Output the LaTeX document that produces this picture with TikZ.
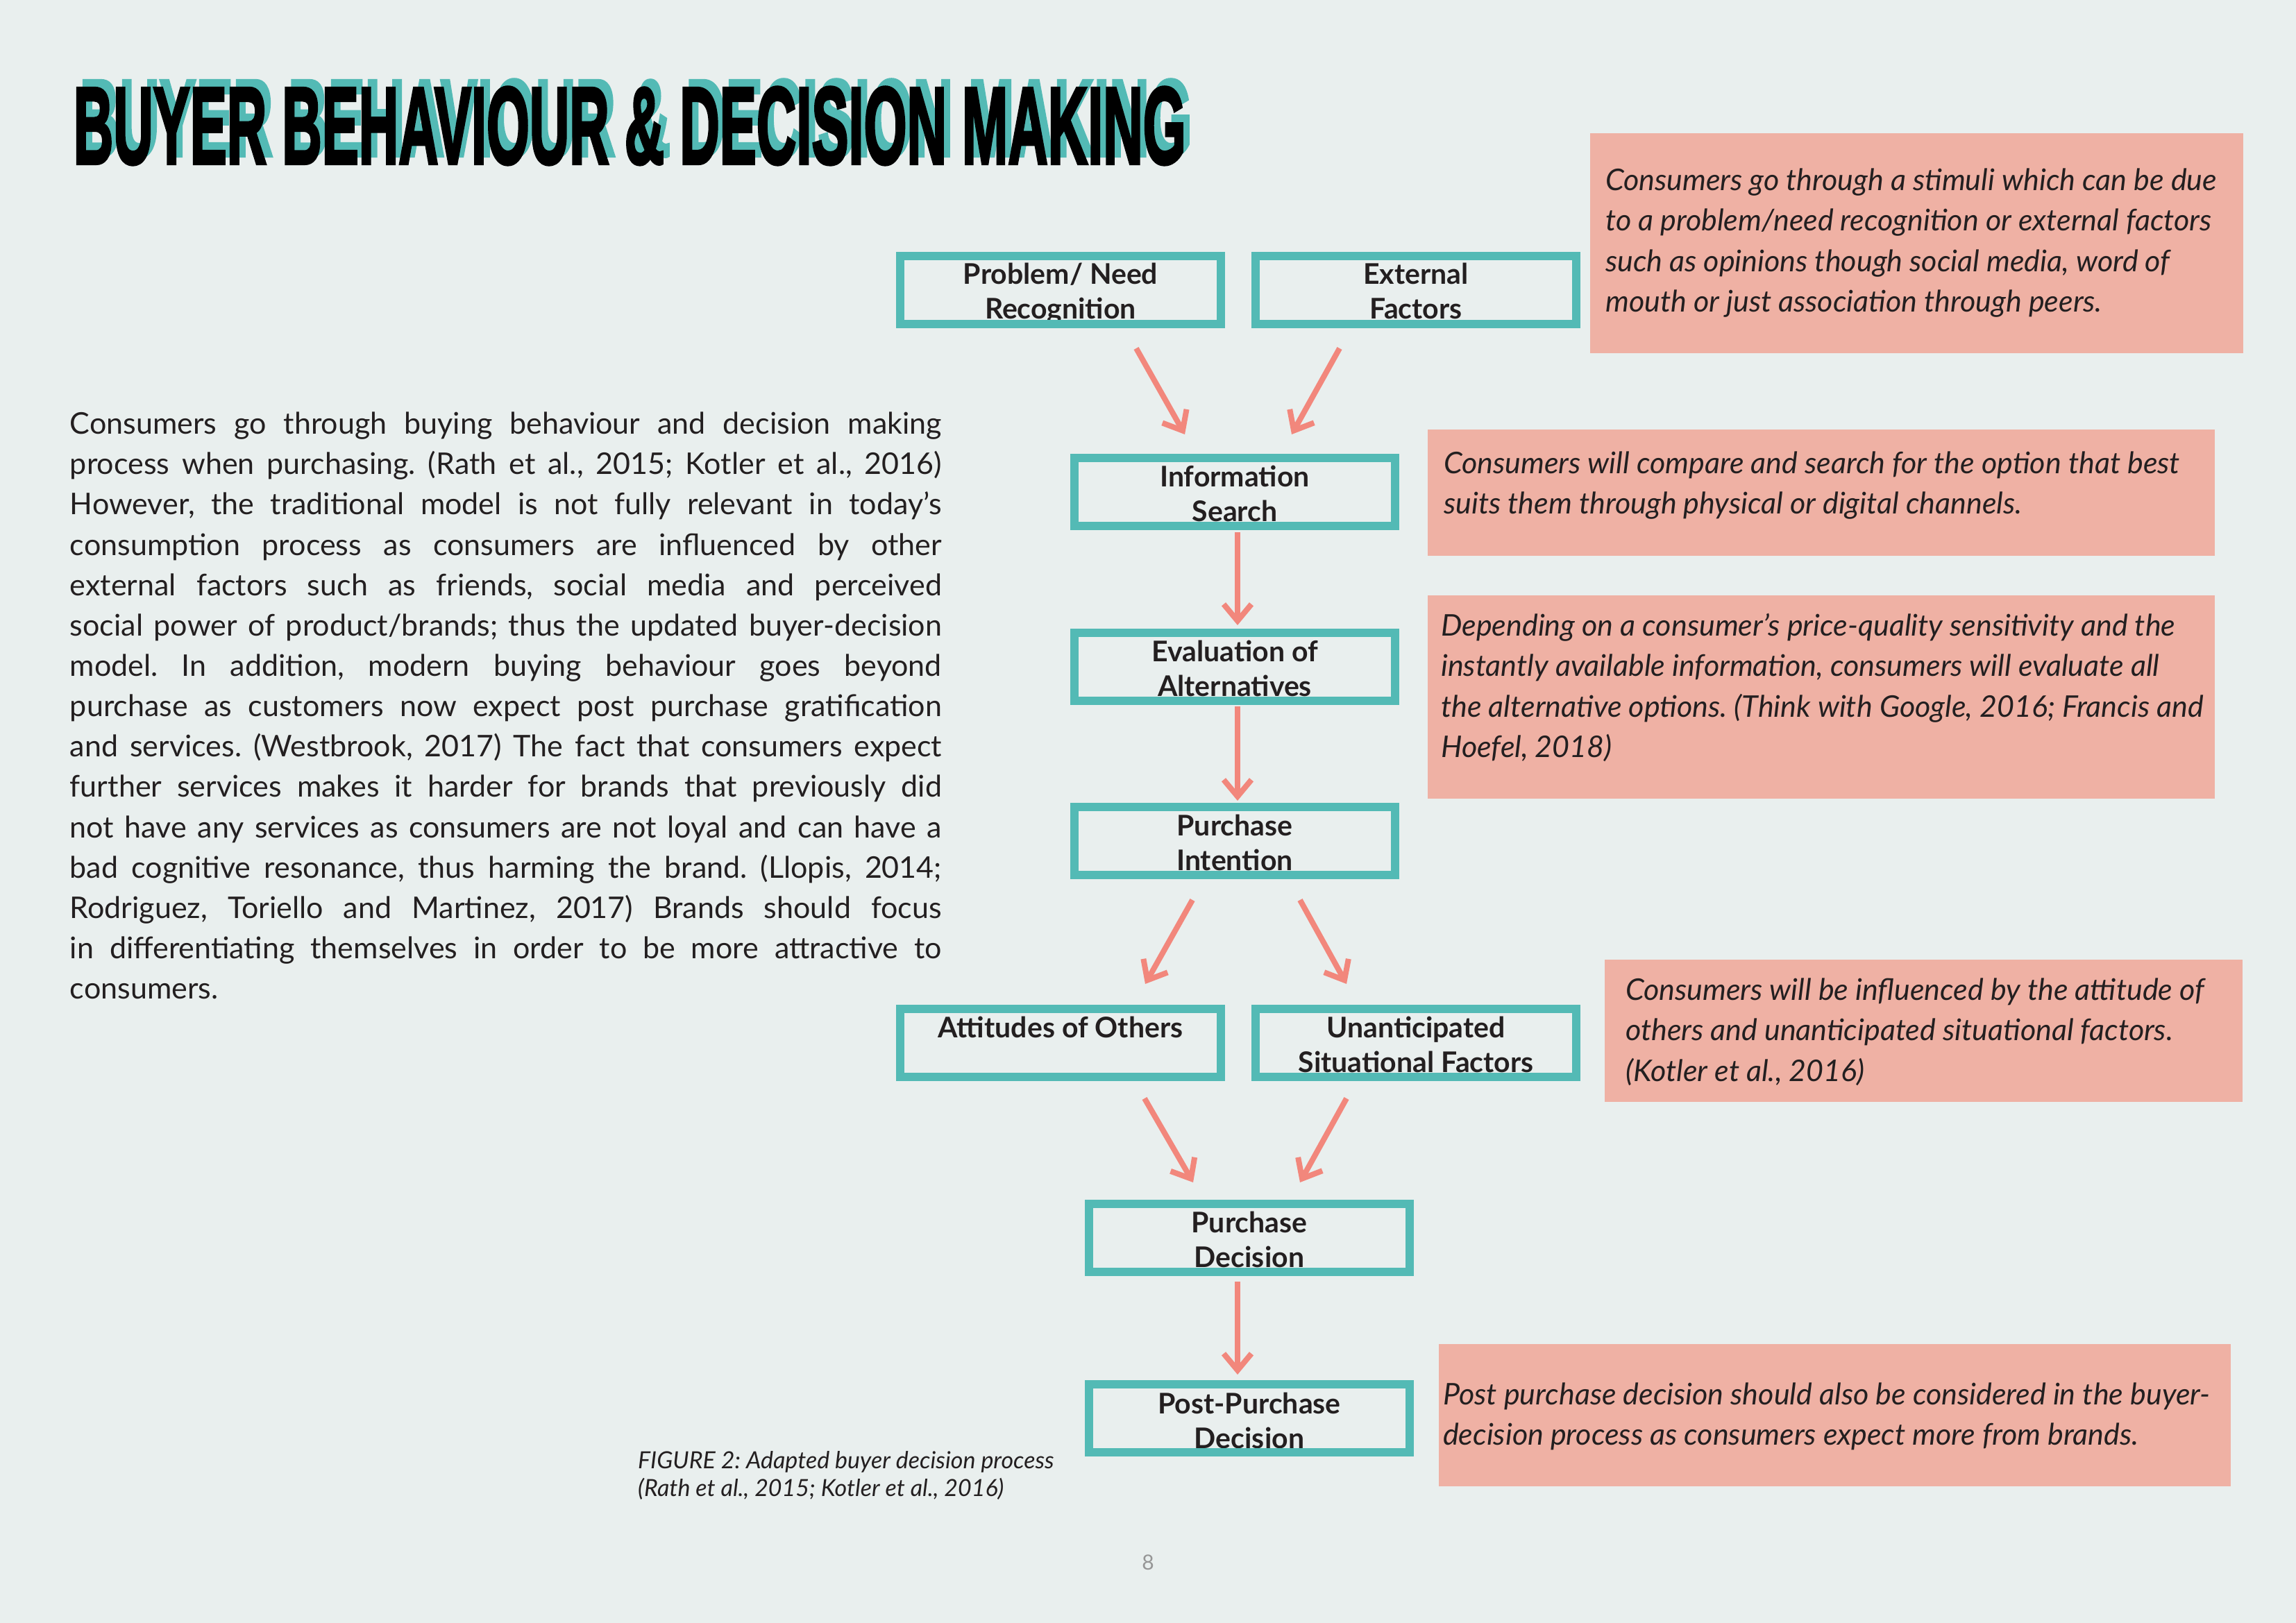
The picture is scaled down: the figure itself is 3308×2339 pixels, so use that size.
\documentclass[tikz,border=0pt]{standalone}
\usepackage{fontspec}
\usepackage{graphicx}
\usetikzlibrary{arrows.meta}
\setmainfont{Lato}
\newfontfamily\titlefont{Liberation Sans}[FakeBold=3]
\definecolor{bgc}{RGB}{233,239,238}
\definecolor{tealc}{RGB}{83,186,181}
\definecolor{pinkc}{RGB}{239,177,164}
\definecolor{arrc}{RGB}{242,135,124}
\definecolor{inkc}{RGB}{35,31,32}
\definecolor{pgc}{RGB}{150,150,150}
\frenchspacing
\newcommand\jl[1]{\hbox to 1256pt{#1}}
\newcommand\titletext{\resizebox{1602pt}{110pt}{\titlefont\bfseries BUYER BEHAVIOUR \& DECISION MAKING}}
\newcommand\boxlabel[2]{\parbox[t]{460pt}{\centering\fontsize{41pt}{50pt}\selectfont\bfseries #1\\#2}}
\newcommand\boxlabelone[1]{\parbox[t]{460pt}{\centering\fontsize{41pt}{50pt}\selectfont\bfseries #1}}
\newcommand\notetext[1]{\parbox[t]{1150pt}{\raggedright\fontsize{43pt}{58.5pt}\selectfont\itshape #1}}
\begin{document}
\begin{tikzpicture}[x=1pt,y=-1pt,
  flow/.style={draw=tealc, line width=12pt, minimum width=462pt, minimum height=98pt, inner sep=0pt, rectangle},
  lbl/.style={inner sep=0pt, anchor=base, text=inkc},
  note/.style={fill=pinkc, inner sep=0pt, anchor=north west, rectangle},
  notetxt/.style={inner sep=0pt, anchor=base west, text=inkc},
  arr/.style={draw=arrc, line width=8pt, -{Straight Barb[length=24pt,width=40pt]}}]
\useasboundingbox (0,0) rectangle (3308,2339);
\fill[bgc] (0,0) rectangle (3308,2339);
% title with teal shadow
\node[anchor=base west, inner sep=0pt, text=black] (title) at (105.6,235.7)
  {\makebox[0pt][l]{\hspace{9pt}\raisebox{11pt}{\textcolor{tealc}{\titletext}}}\titletext};
% body paragraph
\node[anchor=base west, inner sep=0pt, text=inkc] (body) at (100.7,625.7) {\parbox[t]{1256pt}{\fontsize{43pt}{58.14pt}\selectfont
\spaceskip=0.24em plus 1em minus 0.2em
\jl{Consumers go through buying behaviour and decision making}
\jl{process when purchasing. (Rath et al., 2015; Kotler et al., 2016)}
\jl{However, the traditional model is not fully relevant in today’s}
\jl{consumption process as consumers are influenced by other}
\jl{external factors such as friends, social media and perceived}
\jl{social power of product/brands; thus the updated buyer-decision}
\jl{model. In addition, modern buying behaviour goes beyond}
\jl{purchase as customers now expect post purchase gratification}
\jl{and services. (Westbrook, 2017) The fact that consumers expect}
\jl{further services makes it harder for brands that previously did}
\jl{not have any services as consumers are not loyal and can have a}
\jl{bad cognitive resonance, thus harming the brand. (Llopis, 2014;}
\jl{Rodriguez, Toriello and Martinez, 2017) Brands should focus}
\jl{in differentiating themselves in order to be more attractive to}
\hbox{consumers.}}};
% labels (drawn before boxes)
\node[lbl] (probT) at (1528,409.5) {\boxlabel{Problem/ Need}{Recognition}};
\node[lbl] (extT) at (2040,409.5) {\boxlabel{External}{Factors}};
\node[lbl] (infoT) at (1779,701) {\boxlabel{Information}{Search}};
\node[lbl] (evalT) at (1779,953) {\boxlabel{Evaluation of}{Alternatives}};
\node[lbl] (intT) at (1779,1204.5) {\boxlabel{Purchase}{Intention}};
\node[lbl] (attT) at (1528,1495) {\boxlabelone{Attitudes of Others}};
\node[lbl] (unaT) at (2040,1495) {\boxlabel{Unanticipated}{Situational Factors}};
\node[lbl] (decT) at (1800,1776) {\boxlabel{Purchase}{Decision}};
\node[lbl] (postT) at (1800,2037) {\boxlabel{Post-Purchase}{Decision}};
% boxes
\node[flow] (prob) at (1528,418) {};
\node[flow] (ext) at (2040,418) {};
\node[flow] (info) at (1779,709) {};
\node[flow] (eval) at (1779,960.5) {};
\node[flow] (int) at (1779,1211.5) {};
\node[flow] (att) at (1528,1502.5) {};
\node[flow] (una) at (2040,1502.5) {};
\node[flow] (dec) at (1800,1784) {};
\node[flow] (post) at (1800,2044) {};
% arrow end points
\coordinate (a1s) at (1637,502); \coordinate (a1e) at (1707,626);
\coordinate (a2s) at (1930,502); \coordinate (a2e) at (1861,626);
\coordinate (a3s) at (1783,767); \coordinate (a3e) at (1783,901);
\coordinate (a4s) at (1783,1018); \coordinate (a4e) at (1783,1154);
\coordinate (a5s) at (1718,1297); \coordinate (a5e) at (1650,1418);
\coordinate (a6s) at (1873,1297); \coordinate (a6e) at (1940,1418);
\coordinate (a7s) at (1649,1583); \coordinate (a7e) at (1719,1704);
\coordinate (a8s) at (1940,1583); \coordinate (a8e) at (1873,1704);
\coordinate (a9s) at (1783,1847); \coordinate (a9e) at (1783,1981);
\draw[arr] (a1s) -- (a1e);
\draw[arr] (a2s) -- (a2e);
\draw[arr] (a3s) -- (a3e);
\draw[arr] (a4s) -- (a4e);
\draw[arr] (a5s) -- (a5e);
\draw[arr] (a6s) -- (a6e);
\draw[arr] (a7s) -- (a7e);
\draw[arr] (a8s) -- (a8e);
\draw[arr] (a9s) -- (a9e);
% notes
\node[note, minimum width=941pt, minimum height=317pt] (n1) at (2291,192) {};
\node[note, minimum width=1134pt, minimum height=182pt] (n2) at (2057,619) {};
\node[note, minimum width=1134pt, minimum height=293pt] (n3) at (2057,858) {};
\node[note, minimum width=919pt, minimum height=205pt] (n4) at (2312,1383) {};
\node[note, minimum width=1141pt, minimum height=205pt] (n5) at (2073,1937) {};
\node[notetxt] (n1t) at (2313,274) {\notetext{Consumers go through a stimuli which can be due\\to a problem/need recognition or external factors\\such as opinions though social media, word of\\mouth or just association through peers.}};
\node[notetxt] (n2t) at (2080,682) {\notetext{Consumers will compare and search for the option that best\\suits them through physical or digital channels.}};
\node[notetxt] (n3t) at (2076,916) {\notetext{Depending on a consumer’s price-quality sensitivity and the\\instantly available information, consumers will evaluate all\\the alternative options. (Think with Google, 2016; Francis and\\Hoefel, 2018)}};
\node[notetxt] (n4t) at (2342,1441) {\notetext{Consumers will be influenced by the attitude of\\others and unanticipated situational factors.\\(Kotler et al., 2016)}};
\node[notetxt] (n5t) at (2079,2024) {\notetext{Post purchase decision should also be considered in the buyer-\\decision process as consumers expect more from brands.}};
% caption and page number
\node[notetxt] (cap) at (919,2116) {\parbox[t]{800pt}{\raggedright\fontsize{34pt}{40pt}\selectfont\itshape FIGURE 2: Adapted buyer decision process\\(Rath et al., 2015; Kotler et al., 2016)}};
\node[inner sep=0pt, anchor=base, text=pgc] (pg) at (1654,2262) {\fontsize{30pt}{36pt}\selectfont 8};
\end{tikzpicture}
\end{document}
